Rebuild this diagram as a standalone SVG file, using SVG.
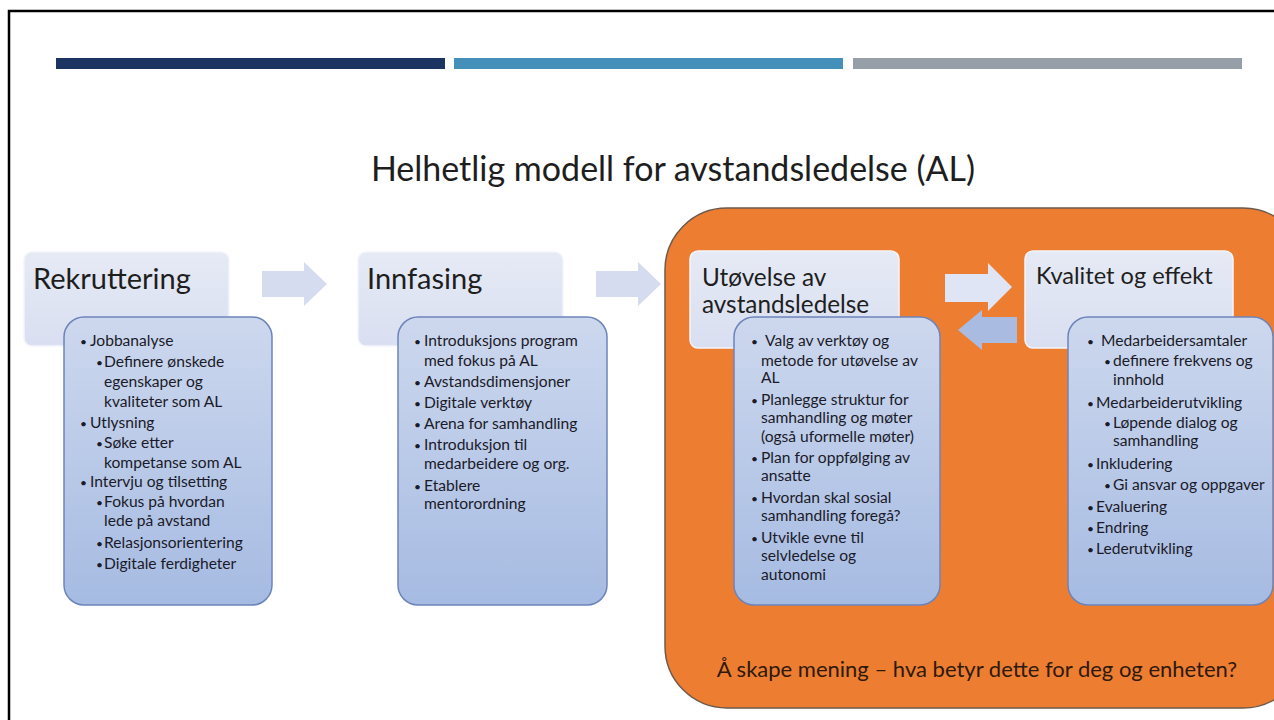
<svg xmlns="http://www.w3.org/2000/svg" width="1274" height="720" viewBox="0 0 1274 720">
<defs>
<linearGradient id="gBox" x1="0" y1="0" x2="0" y2="1">
<stop offset="0" stop-color="#cdd8ee"/>
<stop offset="1" stop-color="#a6bbe2"/>
</linearGradient>
<linearGradient id="gHead" x1="0" y1="0" x2="0" y2="1">
<stop offset="0" stop-color="#e6eaf5"/>
<stop offset="1" stop-color="#d9dff1"/>
</linearGradient>
</defs>
<style>
.frame{stroke:#000;stroke-width:2.5;fill:none}
.head{fill:url(#gHead);stroke:#f3f5fb;stroke-width:1.5}
.box{fill:url(#gBox);stroke:#6d84bb;stroke-width:1.5}
.arr{fill:#d6dcf0}
.arr2{fill:#dfe5f4}
.arr3{fill:#a9bbe1}
.ht{font-family:Lato,"Liberation Sans",sans-serif;fill:#1e1e1e}
.t{font-family:Lato,"Liberation Sans",sans-serif;font-size:15.6px;fill:#1a1a28}
.b{font-size:12px}
</style>
<rect width="1274" height="720" fill="#ffffff"/>
<path class="frame" d="M9,720 V11 H1274"/>
<rect x="56" y="58" width="389" height="11" fill="#1c3461"/>
<rect x="454" y="58" width="389" height="11" fill="#4490bb"/>
<rect x="853" y="58" width="389" height="11" fill="#969fa8"/>
<text x="673" y="181" text-anchor="middle" font-family="Lato,'Liberation Sans',sans-serif" font-size="34" fill="#1e1e1e">Helhetlig modell for avstandsledelse (AL)</text>

<g id="connectors">
<path id="arrow1" class="arr" d="M262,271 H304 V262 L327,284 L304,306 V297 H262 Z"/>
<path id="arrow2" class="arr" d="M596,271 H638 V262 L661,284 L638,306 V297 H596 Z"/>
</g>

<g id="rekruttering">
<rect class="head" x="24" y="252" width="205" height="94" rx="8"/>
<text class="ht" x="33" y="289" font-size="29">Rekruttering</text>
<rect class="box" x="64" y="317" width="208" height="288" rx="20"/>
<g class="t">
<text y="346"><tspan class="b" x="80">•</tspan><tspan x="90">Jobbanalyse</tspan></text>
<text y="367"><tspan class="b" x="96">•</tspan><tspan x="104">Definere ønskede</tspan></text>
<text x="104" y="387">egenskaper og</text>
<text x="104" y="407">kvaliteter som AL</text>
<text y="428"><tspan class="b" x="80">•</tspan><tspan x="90">Utlysning</tspan></text>
<text y="448"><tspan class="b" x="96">•</tspan><tspan x="104">Søke etter</tspan></text>
<text x="104" y="468">kompetanse som AL</text>
<text y="487"><tspan class="b" x="80">•</tspan><tspan x="90">Intervju og tilsetting</tspan></text>
<text y="507"><tspan class="b" x="96">•</tspan><tspan x="104">Fokus på hvordan</tspan></text>
<text x="104" y="526">lede på avstand</text>
<text y="548"><tspan class="b" x="96">•</tspan><tspan x="104">Relasjonsorientering</tspan></text>
<text y="569"><tspan class="b" x="96">•</tspan><tspan x="104">Digitale ferdigheter</tspan></text>
</g>
</g>

<g id="innfasing">
<rect class="head" x="358" y="252" width="205" height="94" rx="8"/>
<text class="ht" x="367" y="289" font-size="29">Innfasing</text>
<rect class="box" x="398" y="317" width="209" height="288" rx="20"/>
<g class="t">
<text y="346"><tspan class="b" x="414">•</tspan><tspan x="424">Introduksjons program</tspan></text>
<text x="424" y="366">med fokus på AL</text>
<text y="387"><tspan class="b" x="414">•</tspan><tspan x="424">Avstandsdimensjoner</tspan></text>
<text y="408"><tspan class="b" x="414">•</tspan><tspan x="424">Digitale verktøy</tspan></text>
<text y="429"><tspan class="b" x="414">•</tspan><tspan x="424">Arena for samhandling</tspan></text>
<text y="450"><tspan class="b" x="414">•</tspan><tspan x="424">Introduksjon til</tspan></text>
<text x="424" y="469">medarbeidere og org.</text>
<text y="491"><tspan class="b" x="414">•</tspan><tspan x="424">Etablere</tspan></text>
<text x="424" y="509">mentorordning</text>
</g>
</g>

<g id="orange-area">
<rect x="665" y="208" width="640" height="500" rx="62" fill="#ed7d31" stroke="#6e5a4c" stroke-width="1.5"/>
<text x="977" y="677" text-anchor="middle" font-family="Lato,'Liberation Sans',sans-serif" font-size="22" fill="#2e1a0c">Å skape mening – hva betyr dette for deg og enheten?</text>
</g>

<g id="orange-connectors">
<path id="arrow3" class="arr2" d="M945,274 H988 V263 L1012,287 L988,311 V302 H945 Z"/>
<path id="arrow4" class="arr3" d="M1017,317 H982 V310 L958,330 L982,350 V343 H1017 Z"/>
</g>

<g id="utovelse">
<rect class="head" x="690" y="251" width="209" height="97" rx="8"/>
<text class="ht" x="702" y="286" font-size="24.3">Utøvelse av</text>
<text class="ht" x="702" y="313" font-size="24.3">avstandsledelse</text>
<rect class="box" x="734" y="317" width="206" height="288" rx="20"/>
<g class="t">
<text y="346"><tspan class="b" x="751">•</tspan><tspan x="765">Valg av verktøy og</tspan></text>
<text x="761" y="366">metode for utøvelse av</text>
<text x="761" y="383">AL</text>
<text y="405"><tspan class="b" x="751">•</tspan><tspan x="761">Planlegge struktur for</tspan></text>
<text x="761" y="423">samhandling og møter</text>
<text x="761" y="442">(også uformelle møter)</text>
<text y="463"><tspan class="b" x="751">•</tspan><tspan x="761">Plan for oppfølging av</tspan></text>
<text x="761" y="481">ansatte</text>
<text y="503"><tspan class="b" x="751">•</tspan><tspan x="761">Hvordan skal sosial</tspan></text>
<text x="761" y="521">samhandling foregå?</text>
<text y="543"><tspan class="b" x="751">•</tspan><tspan x="761">Utvikle evne til</tspan></text>
<text x="761" y="561">selvledelse og</text>
<text x="761" y="580">autonomi</text>
</g>
</g>

<g id="kvalitet">
<rect class="head" x="1025" y="251" width="208" height="97" rx="8"/>
<text class="ht" x="1036" y="284" font-size="23.6">Kvalitet og effekt</text>
<rect class="box" x="1068" y="317" width="205" height="288" rx="20"/>
<g class="t">
<text y="346"><tspan class="b" x="1087">•</tspan><tspan x="1101">Medarbeidersamtaler</tspan></text>
<text y="366"><tspan class="b" x="1104">•</tspan><tspan x="1113">definere frekvens og</tspan></text>
<text x="1113" y="385">innhold</text>
<text y="408"><tspan class="b" x="1087">•</tspan><tspan x="1096">Medarbeiderutvikling</tspan></text>
<text y="428"><tspan class="b" x="1104">•</tspan><tspan x="1113">Løpende dialog og</tspan></text>
<text x="1113" y="446">samhandling</text>
<text y="469"><tspan class="b" x="1087">•</tspan><tspan x="1096">Inkludering</tspan></text>
<text y="490"><tspan class="b" x="1104">•</tspan><tspan x="1113">Gi ansvar og oppgaver</tspan></text>
<text y="512"><tspan class="b" x="1087">•</tspan><tspan x="1096">Evaluering</tspan></text>
<text y="533"><tspan class="b" x="1087">•</tspan><tspan x="1096">Endring</tspan></text>
<text y="554"><tspan class="b" x="1087">•</tspan><tspan x="1096">Lederutvikling</tspan></text>
</g>
</g>
</svg>
